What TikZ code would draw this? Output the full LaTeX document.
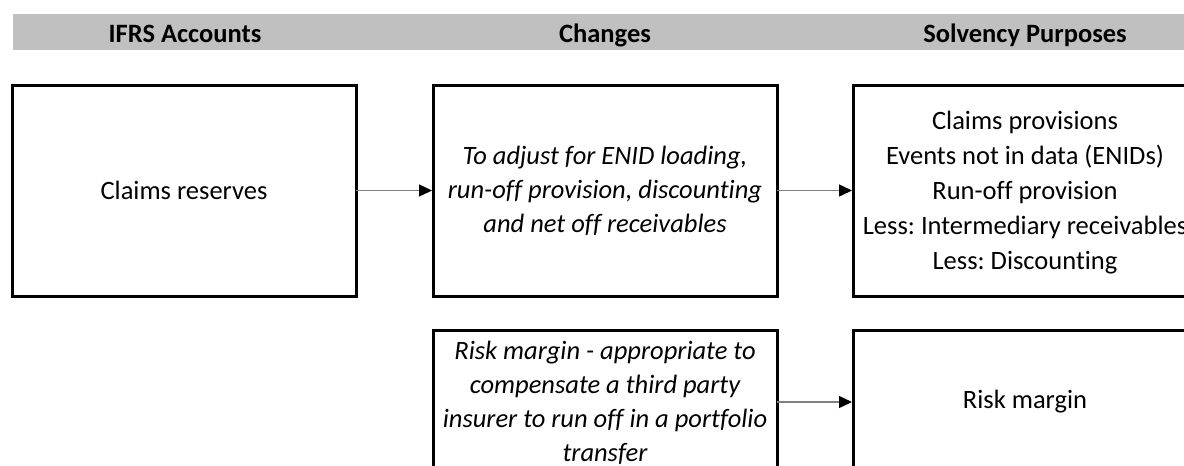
\documentclass[tikz,border=0pt]{standalone}
\usepackage{fontspec}
\setmainfont{Carlito}[Ligatures={NoCommon}]
\usetikzlibrary{arrows.meta}
\definecolor{barg}{RGB}{192,192,192}
\definecolor{arrg}{RGB}{128,128,128}
\frenchspacing
\tikzset{
  box/.style={draw=black, line width=3pt, rectangle, inner sep=0pt, outer sep=0pt,
    minimum width=344pt},
  txt/.style={align=center, font=\fontsize{26.5}{35}\selectfont, inner sep=0pt},
  head/.style={font=\fontsize{26.5}{30}\selectfont\bfseries, inner sep=0pt, anchor=base},
  conn/.style={draw=arrg, line width=1.4pt, -{Triangle[length=13pt,width=12pt,color=black]}, shorten >=1pt}
}
\begin{document}
\begin{tikzpicture}[x=1pt,y=-1pt]
\useasboundingbox (0,0) rectangle (1184,466);
\clip (0,0) rectangle (1184,466);
\fill[barg] (13,14) rectangle (1200,50);
\node[head] (h1) at (185,42) {IFRS Accounts};
\node[head] (h2) at (605,42) {Changes};
\node[head] (h3) at (1025,42) {Solvency Purposes};

\node[box, minimum height=211pt] (b1) at (184,190.5) {};
\node[txt] (t1) at (184,190.5) {Claims reserves};
\node[box, minimum height=211pt] (b2) at (605,190.5) {};
\node[txt, font=\fontsize{26.5}{34}\selectfont\itshape] (t2) at (605,190.5) {To adjust for ENID loading,\\run-off provision, discounting\\and net off receivables};
\node[box, minimum height=211pt] (b3) at (1025,190.5) {};
\node[txt] (t3) at (1025,193) {Claims provisions\\Events not in data (ENIDs)\\Run-off provision\\Less: Intermediary receivables\\Less: Discounting};

\node[box, minimum height=230pt] (b4) at (605,445) {};
\node[txt, font=\fontsize{26.5}{34}\selectfont\itshape] (t4) at (605,403) {Risk margin - appropriate to\\compensate a third party\\insurer to run off in a portfolio\\transfer};
\node[box, minimum height=230pt] (b5) at (1025,445) {};
\node[txt] (t5) at (1025,402) {Risk margin};

\draw[conn] (b1.east) -- (b2.west);
\draw[conn] (b2.east) -- (b3.west);
\draw[conn] (b4.east |- t5) -- (b5.west |- t5);
\end{tikzpicture}
\end{document}
